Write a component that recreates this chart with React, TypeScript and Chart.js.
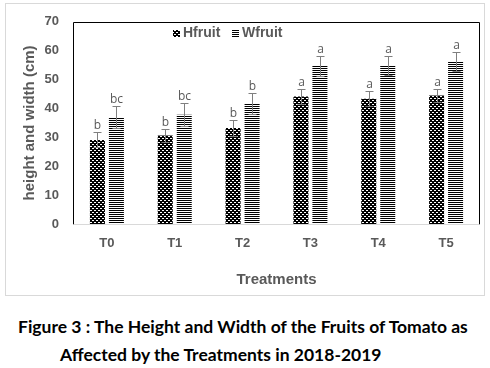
import React, { useEffect, useRef } from "react";
import { Chart, registerables } from "chart.js";

Chart.register(...registerables);

const categories = ["T0", "T1", "T2", "T3", "T4", "T5"];
const hfruit = [29.1, 30.6, 33.2, 44.1, 43.4, 44.5];
const wfruit = [37.0, 37.8, 41.8, 54.8, 54.8, 56.1];
const hfruitErr = [2.6, 2.3, 2.7, 2.7, 2.7, 2.3];
const wfruitErr = [3.7, 4.0, 3.7, 3.5, 3.2, 3.3];
const hfruitLetters = ["b", "b", "b", "a", "a", "a"];
const wfruitLetters = ["bc", "bc", "b", "a", "a", "a"];
const yTicks = [0, 10, 20, 30, 40, 50, 60, 70];

function makeDotPattern(): CanvasPattern | string {
  const c = document.createElement("canvas");
  c.width = 4;
  c.height = 4;
  const g = c.getContext("2d");
  if (!g) return "#000";
  g.fillStyle = "#000";
  g.fillRect(0, 0, 4, 4);
  g.fillStyle = "#fff";
  g.fillRect(0, 0, 2, 1);
  g.fillRect(2, 2, 2, 1);
  return g.createPattern(c, "repeat") || "#000";
}

function makeStripePattern(): CanvasPattern | string {
  const c = document.createElement("canvas");
  c.width = 2;
  c.height = 2;
  const g = c.getContext("2d");
  if (!g) return "#000";
  g.fillStyle = "#fff";
  g.fillRect(0, 0, 2, 2);
  g.fillStyle = "#000";
  g.fillRect(0, 0, 2, 1);
  return g.createPattern(c, "repeat") || "#000";
}

const errs = [hfruitErr, wfruitErr];
const letters = [hfruitLetters, wfruitLetters];

const decorPlugin = {
  id: "decor",
  beforeDraw(chart: any) {
    const ctx = chart.ctx;
    ctx.save();
    ctx.fillStyle = "#fff";
    ctx.fillRect(0, 0, chart.width, chart.height);
    ctx.strokeStyle = "#d9d9d9";
    ctx.lineWidth = 1;
    ctx.strokeRect(5.5, 3.5, 479, 292);
    ctx.restore();
  },
  beforeDatasetsDraw(chart: any) {
    const { ctx, chartArea } = chart;
    const l = Math.round(chartArea.left) + 0.5;
    const r = Math.round(chartArea.right) - 0.5;
    const t = Math.round(chartArea.top) + 0.5;
    const b = Math.round(chartArea.bottom) + 0.5;
    ctx.save();
    ctx.strokeStyle = "#000";
    ctx.lineWidth = 1;
    ctx.beginPath();
    ctx.moveTo(l, b);
    ctx.lineTo(l, t);
    ctx.lineTo(r, t);
    ctx.lineTo(r, b);
    ctx.stroke();
    ctx.strokeStyle = "#d9d9d9";
    ctx.beginPath();
    ctx.moveTo(l, b);
    ctx.lineTo(r, b);
    ctx.stroke();
    ctx.restore();
  },
  afterDatasetsDraw(chart: any) {
    const { ctx } = chart;
    const y = chart.scales.y;
    ctx.save();
    chart.data.datasets.forEach((ds: any, di: number) => {
      const meta = chart.getDatasetMeta(di);
      meta.data.forEach((bar: any, i: number) => {
        const v = ds.data[i];
        const e = errs[di][i];
        const x = Math.round(bar.x) + 0.5;
        const yt = Math.round(y.getPixelForValue(v + e)) + 0.5;
        const yb = Math.round(y.getPixelForValue(v - e)) + 0.5;
        ctx.strokeStyle = "#7f7f7f";
        ctx.lineWidth = 1;
        ctx.beginPath();
        ctx.moveTo(x, yt);
        ctx.lineTo(x, yb);
        ctx.moveTo(x - 4, yt);
        ctx.lineTo(x + 4, yt);
        ctx.moveTo(x - 4, yb);
        ctx.lineTo(x + 4, yb);
        ctx.stroke();
        ctx.fillStyle = "#595959";
        ctx.font = "12px 'Open Sans'";
        ctx.textAlign = "center";
        ctx.textBaseline = "alphabetic";
        ctx.fillText(letters[di][i], x, yt - 4);
      });
    });
    // legend
    const items = [
      { x: 173, label: chart.data.datasets[0].label, fill: chart.data.datasets[0].backgroundColor },
      { x: 232, label: chart.data.datasets[1].label, fill: chart.data.datasets[1].backgroundColor },
    ];
    ctx.font = "bold 14px 'Liberation Sans', Arial";
    ctx.textAlign = "left";
    ctx.textBaseline = "middle";
    items.forEach((it) => {
      ctx.fillStyle = it.fill;
      ctx.fillRect(it.x, 30, 7, 7);
      ctx.fillStyle = "#595959";
      ctx.fillText(it.label, it.x + 10, 33.5);
    });
    ctx.restore();
  },
};

export default function App() {
  const ref = useRef<HTMLCanvasElement>(null);
  useEffect(() => {
    if (!ref.current) return;
    const dot = makeDotPattern();
    const stripe = makeStripePattern();
    const chart = new Chart(ref.current, {
      type: "bar",
      data: {
        labels: categories,
        datasets: [
          {
            label: "Hfruit",
            data: hfruit,
            backgroundColor: dot as any,
            borderWidth: 0,
            categoryPercentage: 0.56,
            barPercentage: 0.79,
          },
          {
            label: "Wfruit",
            data: wfruit,
            backgroundColor: stripe as any,
            borderWidth: 0,
            categoryPercentage: 0.56,
            barPercentage: 0.79,
          },
        ],
      },
      options: {
        animation: false,
        responsive: false,
        devicePixelRatio: 1,
        layout: { padding: { left: 18, top: 18, right: 10, bottom: 0 } },
        plugins: {
          legend: { display: false },
          tooltip: { enabled: false },
          title: { display: false },
        },
        scales: {
          x: {
            grid: { display: false, drawTicks: false },
            border: { display: false },
            ticks: {
              padding: 12,
              color: "#595959",
              font: { family: "'Liberation Sans', Arial", size: 13, weight: "bold" },
            },
            title: {
              display: true,
              text: "Treatments",
              color: "#595959",
              padding: { top: 0, bottom: 11 },
              font: { family: "'Liberation Sans', Arial", size: 15, weight: "bold" },
            },
            afterFit: (s: any) => {
              s.height = 76;
            },
          },
          y: {
            min: 0,
            max: 70,
            afterBuildTicks: (s: any) => {
              s.ticks = yTicks.map((v) => ({ value: v }));
            },
            grid: { display: false, drawTicks: false },
            border: { display: false },
            ticks: {
              padding: 14,
              color: "#595959",
              font: { family: "'Liberation Sans', Arial", size: 13, weight: "bold" },
            },
            title: {
              display: true,
              text: "height and width (cm)",
              color: "#595959",
              padding: { top: 3, bottom: 0 },
              font: { family: "'Liberation Sans', Arial", size: 15, weight: "bold" },
            },
            afterFit: (s: any) => {
              s.width = 55;
            },
          },
        },
      },
      plugins: [decorPlugin],
    });
    return () => chart.destroy();
  }, []);

  const capStyle: React.CSSProperties = {
    position: "absolute",
    whiteSpace: "nowrap",
    fontFamily: "Lato, 'Open Sans', sans-serif",
    fontWeight: 700,
    fontSize: 17.5,
    color: "#000",
    lineHeight: "20px",
  };

  return (
    <div style={{ position: "absolute", left: 0, top: 0, width: 490, height: 368, background: "#fff", overflow: "hidden" }}>
      <canvas ref={ref} width={490} height={300} style={{ position: "absolute", left: 0, top: 0, width: 490, height: 300 }} />
      <div style={{ ...capStyle, left: 18, top: 317 }}>
        Figure 3 : The Height and Width of the Fruits of Tomato as
      </div>
      <div style={{ ...capStyle, left: 60, top: 345 }}>
        Affected by the Treatments in 2018-2019
      </div>
    </div>
  );
}
